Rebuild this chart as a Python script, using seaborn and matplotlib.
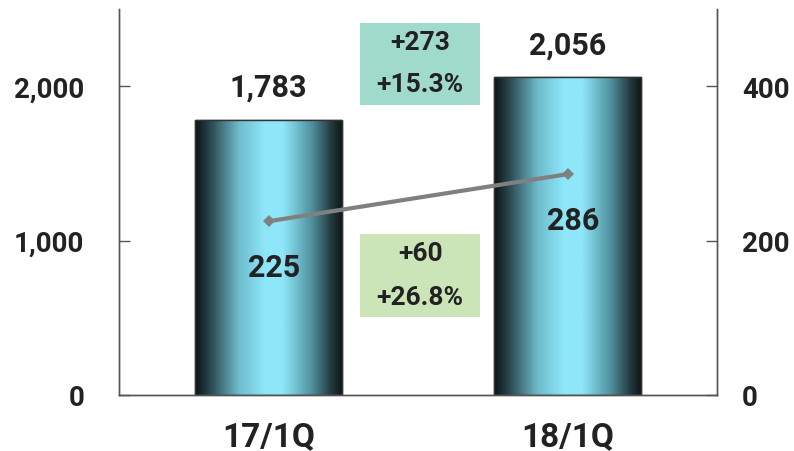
import numpy as np
import pandas as pd
import seaborn as sns
import matplotlib.pyplot as plt
from matplotlib.colors import LinearSegmentedColormap
from matplotlib.patches import Rectangle

# data
quarters = ["17/1Q", "18/1Q"]
sales = [1783, 2056]
profit = [225, 286]
sales_change = ["+273", "+15.3%"]
profit_change = ["+60", "+26.8%"]

sns.set_style("white")
plt.rcParams['font.family'] = ['Roboto', 'DejaVu Sans']
plt.rcParams['font.weight'] = 'bold'

df = pd.DataFrame({"quarter": quarters, "sales": sales, "profit": profit})

fig = plt.figure(figsize=(7.94, 4.52), dpi=100)
ax = fig.add_axes([0.150, 0.124, 0.753, 0.854])

sns.barplot(data=df, x="quarter", y="sales", ax=ax, width=0.49,
            color="#8ee6f8", edgecolor="#222222", linewidth=1.0)

# cylinder-like shading on each bar
cyl = LinearSegmentedColormap.from_list("cyl", [
    (0.0, "#0b1214"), (0.12, "#2f525a"), (0.3, "#6fbccc"),
    (0.48, "#8ee8fa"), (0.6, "#8ee6f8"), (0.8, "#4f8f9c"),
    (0.93, "#23393e"), (1.0, "#101819")])
grad = np.linspace(0, 1, 256).reshape(1, -1)
for p in ax.patches:
    x0, y0 = p.get_x(), p.get_y()
    w, h = p.get_width(), p.get_height()
    im = ax.imshow(grad, cmap=cyl, aspect="auto", extent=[x0, x0 + w, y0, y0 + h],
                   zorder=p.get_zorder() + 0.1)
    im.set_clip_path(p)
    ax.add_patch(Rectangle((x0, y0), w, h, fill=False, edgecolor="#333333",
                           linewidth=1.0, zorder=p.get_zorder() + 0.2))
ax.set_xlim(-0.5, 1.5)
ax.set_ylim(0, 2500)

for i, v in enumerate(sales):
    ax.annotate(f"{v:,}", (i, v), xytext=(0, 24), textcoords="offset points",
                ha="center", va="center", fontsize=22, color="#222222")

ax2 = ax.twinx()
sns.lineplot(data=df, x="quarter", y="profit", ax=ax2, color="#808080",
             linewidth=3, marker="D", markersize=6, markeredgewidth=0)
ax2.set_ylim(0, 500)
ax2.set_xlim(-0.5, 1.5)
for i, v in enumerate(profit):
    ax2.annotate(f"{v}", (i, v), xytext=(4, -33), textcoords="offset points",
                 ha="center", va="center", fontsize=22, color="#222222")

# change boxes
boxes = [
    (0.751, 0.964, "#a0dacb", sales_change, 0.915, 0.806),
    (0.202, 0.417, "#cce5b8", profit_change, 0.368, 0.254),
]
for y0, y1, col, labels, ty1, ty2 in boxes:
    ax2.add_patch(Rectangle((0.403, y0), 0.201, y1 - y0, transform=ax2.transAxes,
                            facecolor=col, edgecolor="none", zorder=5))
    ax2.text(0.5035, ty1, labels[0], transform=ax2.transAxes, ha="center", va="center",
             fontsize=19, color="#222222", zorder=6)
    ax2.text(0.5035, ty2, labels[1], transform=ax2.transAxes, ha="center", va="center",
             fontsize=19, color="#222222", zorder=6)

# axes styling
ax.set_xlabel("")
ax.set_ylabel("")
ax2.set_xlabel("")
ax2.set_ylabel("")
ax.set_yticks([0, 1000, 2000])
ax.set_yticklabels(["0", "1,000", "2,000"])
ax2.set_yticks([0, 200, 400])
ax.set_xticks([0.5], minor=True)
ax.set_xticks([0, 1])
ax.set_xticklabels(quarters)
ax.tick_params(axis="x", which="major", length=0, labelsize=24, pad=18, colors="#222222")
ax.tick_params(axis="x", which="minor", direction="in", length=8, width=1, color="#555555")
ax.tick_params(axis="y", direction="in", length=8, width=1, color="#555555",
               labelsize=20, pad=25, labelcolor="#222222")
ax2.tick_params(axis="y", direction="in", length=8, width=1, color="#555555",
                labelsize=20, pad=18, labelcolor="#222222")
for a in (ax, ax2):
    a.spines["top"].set_visible(False)
    for s in ("left", "right", "bottom"):
        a.spines[s].set_color("#555555")
        a.spines[s].set_linewidth(1)
    a.grid(False)

fig.savefig("out.png", dpi=100)
